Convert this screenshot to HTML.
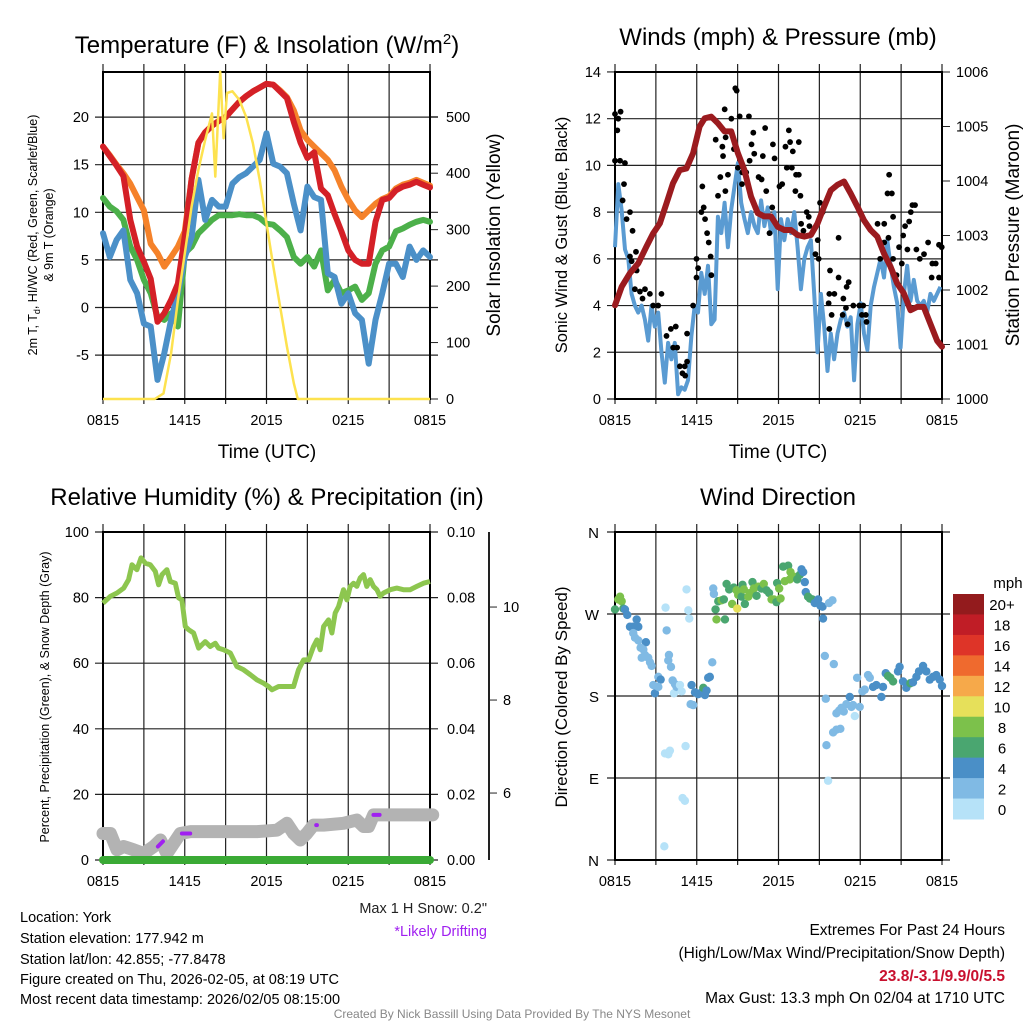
<!DOCTYPE html>
<html><head><meta charset="utf-8">
<style>
html,body{margin:0;padding:0;background:#fff;}
svg{display:block;font-family:"Liberation Sans",Arial,sans-serif;}
</style></head>
<body>
<svg id="chart" width="1024" height="1024" viewBox="0 0 1024 1024" xmlns="http://www.w3.org/2000/svg">
<rect width="1024" height="1024" fill="#fff"/>
<text x="267" y="53" font-size="24" text-anchor="middle">Temperature (F) &amp; Insolation (W/m<tspan dy="-9" font-size="15">2</tspan><tspan dy="9">)</tspan></text>
<text x="778" y="45" font-size="24" text-anchor="middle">Winds (mph) &amp; Pressure (mb)</text>
<text x="267" y="505" font-size="24" text-anchor="middle">Relative Humidity (%) &amp; Precipitation (in)</text>
<text x="778" y="505" font-size="24" text-anchor="middle">Wind Direction</text>

<g id="p1"></g>
<g id="p2"></g>
<g id="p3"></g>
<g id="p4"></g>

<text transform="translate(37,235) rotate(-90)" font-size="12.5" text-anchor="middle">2m T, T<tspan dy="3" font-size="9">d</tspan><tspan dy="-3">, HI/WC (Red, Green, Scarlet/Blue)</tspan></text>
<text transform="translate(53,235) rotate(-90)" font-size="12.5" text-anchor="middle">&amp; 9m T (Orange)</text>
<text transform="translate(500,235) rotate(-90)" font-size="19" text-anchor="middle">Solar Insolation (Yellow)</text>
<text transform="translate(567,235) rotate(-90)" font-size="16.5" text-anchor="middle">Sonic Wind &amp; Gust (Blue, Black)</text>
<text transform="translate(1019,235) rotate(-90)" font-size="19" text-anchor="middle">Station Pressure (Maroon)</text>
<text transform="translate(49,697) rotate(-90)" font-size="12.5" text-anchor="middle">Percent, Precipitation (Green), &amp; Snow Depth (Gray)</text>
<text transform="translate(567,697) rotate(-90)" font-size="17" text-anchor="middle">Direction (Colored By Speed)</text>
<text x="267" y="458" font-size="19" text-anchor="middle">Time (UTC)</text>
<text x="778" y="458" font-size="19" text-anchor="middle">Time (UTC)</text>

<text x="487" y="913" font-size="14.5" text-anchor="end" fill="#222">Max 1 H Snow: 0.2"</text>
<text x="487" y="936" font-size="14.5" text-anchor="end" fill="#a020f0">*Likely Drifting</text>
<g font-size="14.5">
<text x="20" y="922">Location: York</text>
<text x="20" y="943">Station elevation: 177.942 m</text>
<text x="20" y="964">Station lat/lon: 42.855; -77.8478</text>
<text x="20" y="984">Figure created on Thu, 2026-02-05, at 08:19 UTC</text>
<text x="20" y="1004">Most recent data timestamp: 2026/02/05 08:15:00</text>
</g>
<g font-size="15.5" text-anchor="end">
<text x="1005" y="935">Extremes For Past 24 Hours</text>
<text x="1005" y="958">(High/Low/Max Wind/Precipitation/Snow Depth)</text>
<text x="1005" y="981" fill="#c8102e" font-weight="bold">23.8/-3.1/9.9/0/5.5</text>
<text x="1005" y="1003">Max Gust: 13.3 mph On 02/04 at 1710 UTC</text>
</g>
<text x="512" y="1018" font-size="12" text-anchor="middle" fill="#888">Created By Nick Bassill Using Data Provided By The NYS Mesonet</text>
</svg>
<script>
// ---------- Temperature panel data (half-hourly, hours since 0815 UTC) ----------
const tempHours = [0,0.5,1,1.5,2,2.5,3,3.5,4,4.5,5,5.5,6,6.5,7,7.5,8,8.5,9,9.5,10,10.5,11,11.5,12,12.5,13,13.5,14,14.5,15,15.5,16,16.5,17,17.5,18,18.5,19,19.5,20,20.5,21,21.5,22,22.5,23,23.5,24];
const tempRed = [16.9,15.9,14.9,13.8,9.2,6.4,4.8,3.0,-1.5,-0.6,0.8,2.5,7.5,13.5,17.3,18.4,19.1,19.6,20.0,20.8,21.6,22.2,22.7,23.1,23.5,23.4,22.7,22.0,19.5,17.3,15.7,16.3,12.5,11.8,9.8,8.0,6.0,5.0,4.6,4.6,9.0,11.3,11.5,12.3,12.7,12.9,13.2,12.9,12.6];
const tempOrange = [16.9,16.0,15.0,14.1,13.0,11.6,10.2,6.7,5.7,4.3,5.3,6.4,8.0,13.5,17.3,18.4,19.1,19.6,20.0,20.8,21.6,22.2,22.7,23.1,23.5,23.4,22.8,22.1,20.7,18.6,17.6,16.9,16.2,15.5,14.4,12.7,11.3,10.2,9.5,10.2,10.9,11.4,11.7,12.5,12.9,13.1,13.4,13.1,12.8];
const tempGreen = [11.5,10.6,10.1,9.2,6.4,5.0,2.9,1.5,-1.0,-1.3,-0.6,-2.0,5.7,6.4,7.8,8.5,9.2,9.7,9.7,9.7,9.8,9.7,9.7,9.4,8.8,8.7,8.1,7.4,5.3,4.6,5.3,4.3,6.0,1.8,2.9,1.5,1.8,2.2,0.8,1.5,4.6,6.0,6.4,8.0,8.3,8.7,9.0,9.2,9.0];
const tempBlue = [7.8,5.3,7.1,8.1,2.9,1.5,-1.7,-2.0,-7.6,-4.8,-1.3,1.5,5.3,7.4,13.4,9.2,11.3,10.6,10.6,13.0,13.7,14.1,14.8,15.5,18.3,15.1,14.8,14.1,10.9,8.1,12.7,11.6,11.3,3.6,3.2,0.4,1.5,-0.6,-1.3,-5.9,-1.3,1.5,4.6,4.6,3.2,6.4,5.0,6.0,5.3];
const solarHours = [0,3.8,4.44,5.0,5.5,6.0,6.5,7.0,7.5,8.0,8.24,8.6,8.85,9.1,9.5,10.0,10.5,11.0,11.5,12.0,12.5,13.0,13.5,14.0,14.3,14.6,24];
const solarWm2 = [0,0,10,81,175,258,341,406,459,506,394,580,462,542,545,530,500,453,388,311,235,164,93,28,0,0,0];
const tempTicks = [-5,0,5,10,15,20];
const solarTicks = [0,100,200,300,400,500];
const timeTickLabels = ["0815","1415","2015","0215","0815"];

// ---------- Winds panel data ----------
const windStepHours = 0.2437;
const windSpeed = [6.5,9.2,8.1,6.4,6.0,4.5,4.0,3.7,4.0,3.4,2.5,4.0,3.1,3.7,2.0,0.7,2.4,1.7,2.4,0.2,0.5,0.4,0.8,2.7,4.0,3.7,5.4,4.5,5.7,3.2,3.4,7.8,7.1,8.4,6.5,8.1,9.1,10.1,8.4,7.7,7.1,8.0,7.4,7.1,8.5,7.4,8.2,7.1,8.0,4.7,7.7,6.8,7.7,7.1,8.0,6.5,4.7,6.0,6.5,6.8,4.5,2.0,4.5,3.1,1.2,2.8,1.7,2.8,3.4,3.7,3.1,3.5,0.8,3.2,4.1,2.8,2.1,4.0,4.8,5.4,6.0,5.2,6.8,5.7,4.8,4.1,2.2,4.5,5.7,4.2,5.1,4.2,4.0,4.2,3.7,4.5,4.2,4.5,4.8];
const gustHours = [0.0,0.24,0.41,0.17,0.0,0.37,0.73,0.66,0.56,1.10,0.85,1.29,1.10,1.54,1.22,1.59,1.46,1.83,2.20,2.02,2.56,2.80,3.17,3.41,3.78,4.10,4.46,4.27,4.56,4.76,5.12,4.95,5.29,5.15,5.29,5.73,5.98,6.10,5.98,6.34,6.51,6.61,6.41,6.76,6.88,7.02,7.07,7.56,7.39,7.93,7.88,8.10,7.73,8.29,8.12,8.54,8.05,8.73,8.83,8.93,9.15,9.83,9.02,9.34,9.32,9.63,9.88,10.02,10.22,10.15,10.85,11.02,10.54,10.76,11.10,11.59,11.71,11.54,11.34,12.07,12.27,12.51,12.76,12.85,13.05,13.49,12.61,12.98,13.29,13.49,13.24,13.61,14.07,13.66,14.22,13.83,14.27,14.71,14.88,15.05,15.24,14.95,15.78,16.41,15.73,16.10,15.68,16.76,17.00,17.15,16.71,16.95,15.73,15.90,17.07,17.49,17.93,18.22,18.41,18.12,18.46,16.41,19.76,19.27,20.12,20.00,20.32,20.41,19.46,19.76,20.07,20.41,20.66,20.85,21.05,21.15,21.46,21.29,21.59,21.83,22.02,21.71,22.12,22.37,22.68,22.98,23.29,23.54,23.24,23.78,23.98,23.78];
const gustMph = [12.2,12.0,12.3,11.5,10.2,10.2,10.1,9.2,8.5,8.0,7.7,7.2,6.1,6.3,5.9,5.5,4.7,4.6,4.7,4.3,4.5,4.0,4.0,4.5,2.7,3.0,3.1,2.2,2.2,1.4,1.4,1.1,1.6,1.0,2.8,4.0,6.0,5.6,5.2,8.0,8.2,7.7,9.1,7.1,6.7,6.1,5.3,8.7,11.1,10.4,10.8,8.9,9.5,9.6,11.2,12.0,12.4,10.7,13.3,13.2,12.1,12.1,9.9,9.7,9.2,9.7,10.2,10.9,10.5,11.4,10.4,11.6,9.5,9.4,8.9,10.9,10.3,8.2,7.1,9.1,9.2,10.8,11.5,11.0,10.6,11.0,9.9,9.9,9.6,9.6,8.9,8.7,8.0,7.5,7.8,7.2,7.4,6.2,6.8,8.4,8.0,6.0,5.5,5.2,4.5,4.5,4.1,4.3,4.8,5.0,3.6,3.9,3.0,3.6,3.2,4.0,4.0,4.0,3.6,3.6,3.3,6.9,7.5,7.5,9.6,8.8,8.8,7.8,6.0,6.7,6.9,6.0,5.3,6.5,5.8,7.0,6.4,7.4,7.6,8.3,8.3,8.0,6.4,6.0,6.2,6.7,5.8,5.8,5.2,6.6,6.5,5.2];
const pressHours = [0,0.49,1.10,1.71,2.31,2.80,3.29,3.78,4.26,4.75,5.24,5.73,6.21,6.58,7.07,7.55,8.04,8.53,9.02,9.50,9.99,10.48,10.96,11.45,11.94,12.43,12.91,13.40,13.89,14.38,14.86,15.35,15.84,16.33,16.81,17.30,17.79,18.27,18.76,19.25,19.74,20.22,20.71,21.20,21.69,22.17,22.66,23.15,23.64,24];
const pressMb = [1001.72,1002.06,1002.31,1002.49,1002.80,1003.04,1003.22,1003.59,1003.96,1004.20,1004.23,1004.51,1005.00,1005.15,1005.18,1005.06,1004.91,1004.91,1004.51,1004.20,1003.71,1003.41,1003.35,1003.35,1003.16,1003.10,1003.10,1003.01,1002.98,1003.01,1003.22,1003.53,1003.83,1003.93,1003.99,1003.77,1003.53,1003.28,1003.10,1002.98,1002.67,1002.43,1002.12,1001.94,1001.63,1001.69,1001.69,1001.38,1001.07,1000.96];
const windTicks = [0,2,4,6,8,10,12,14];
const pressTicks = [1000,1001,1002,1003,1004,1005,1006];

// ---------- Humidity panel data ----------
const rhHours = [0,0.54,1.03,1.52,1.88,2.13,2.49,2.79,3.11,3.47,3.84,4.08,4.33,4.69,4.94,5.31,5.55,5.79,6.04,6.28,6.65,7.02,7.26,7.51,7.87,8.24,8.48,8.85,9.34,9.83,10.32,10.81,11.30,11.78,12.15,12.40,12.89,13.50,13.99,14.35,14.72,15.09,15.45,15.70,15.94,16.19,16.55,16.80,17.04,17.29,17.65,17.90,18.14,18.39,18.63,18.88,19.12,19.36,19.61,19.85,20.10,20.34,20.59,21.08,21.56,22.05,22.54,23.03,23.52,24];
const rhPct = [78.3,80.4,81.4,82.9,85.5,90.0,88.5,92.1,90.5,90.0,88.0,83.9,87.0,88.5,84.9,84.4,79.9,79.3,71.2,70.2,69.2,64.6,65.6,66.6,65.1,66.1,64.6,64.1,63.1,59.0,58.0,56.5,54.9,53.9,52.9,51.9,52.9,52.9,52.9,58.0,61.0,61.0,65.1,67.1,64.1,71.2,73.2,69.2,75.3,77.3,82.4,79.3,83.4,84.4,83.4,86.0,87.0,83.4,85.5,83.4,82.4,80.4,81.4,82.4,82.9,82.4,82.4,83.4,84.4,84.9];
const snowHours = [0,0.54,1.03,1.52,2.25,2.98,3.72,4.21,4.69,5.67,6.41,8.85,11.30,12.76,13.50,13.99,14.48,14.96,15.45,16.19,17.65,18.63,19.12,19.49,19.86,24.2];
const snowDepth = [5.13,5.13,4.78,4.85,4.78,4.70,4.85,4.99,4.70,5.13,5.17,5.17,5.17,5.20,5.35,5.13,4.99,5.13,5.31,5.31,5.35,5.42,5.28,5.28,5.53,5.53];
const driftStart = [4.03,5.79,15.65,19.85];
const driftEnd = [4.40,6.40,15.70,20.30];
const driftDepthA = [4.85,5.13,5.31,5.53];
const driftDepthB = [4.96,5.13,5.31,5.53];
const precipHours = [0,24];
const precipIn = [0,0];
const rhTicks = [0,20,40,60,80,100];
const precipTicks = ["0.00","0.02","0.04","0.06","0.08","0.10"];
const snowTicks = [6,8,10];

// ---------- Wind direction panel data ----------
const dirHours = [0.00,0.24,0.37,0.49,0.61,0.73,0.90,1.59,1.10,1.34,1.71,1.34,1.47,1.71,2.27,1.88,2.08,2.20,1.96,2.44,2.57,2.69,2.81,2.93,3.18,3.35,3.18,3.79,3.71,3.96,3.91,4.11,4.23,4.40,4.33,4.52,4.89,4.77,5.25,5.38,5.45,5.62,5.55,5.74,5.87,6.11,6.35,6.48,6.72,6.60,6.84,6.96,7.14,7.21,7.26,7.38,7.45,7.58,7.82,7.99,8.07,8.19,8.38,8.60,8.72,8.92,8.97,9.04,9.29,9.36,9.46,9.53,9.78,9.90,10.09,10.19,10.39,10.51,10.75,10.92,11.12,11.31,11.49,11.66,11.85,11.90,12.05,12.15,12.34,12.46,12.71,12.83,12.88,13.12,13.37,13.56,13.69,13.81,13.93,14.00,14.17,14.30,14.49,14.66,14.91,15.08,15.23,15.27,15.71,15.96,15.40,16.06,15.47,15.52,15.64,16.25,16.45,16.62,16.79,16.98,17.23,17.35,17.47,17.60,17.77,17.96,18.16,18.33,18.57,18.70,18.94,19.18,19.55,19.67,19.87,20.04,20.21,20.41,20.77,20.89,21.14,21.38,21.68,21.87,22.12,22.31,22.61,22.85,23.10,23.34,23.58,23.83,24.0,3.67,3.91,4.03,5.18,4.96,5.13,3.62,16.25,16.01,16.54];
const dirDeg = [275,286,289,284,276,275,269,264,256,256,256,249,244,241,239,233,231,225,222,222,217,213,192,183,201,198,190,252,277,225,219,212,197,193,183,190,185,192,297,274,265,192,171,170,184,182,184,189,186,181,200,201,217,298,292,275,264,284,285,286,264,303,297,281,299,296,276,291,289,302,297,281,289,293,305,298,290,300,298,303,296,293,286,286,283,304,298,287,322,306,323,308,316,311,308,313,319,316,305,294,289,287,286,282,286,279,278,265,282,285,224,215,177,126,87,161,164,167,163,171,179,168,170,158,200,168,185,187,203,200,190,192,179,190,205,202,200,196,207,212,196,189,194,195,201,207,213,207,198,201,203,198,191,117,116,120,125,68,65,15,143,140,144];
const dirSpeed = [7,9,9,9,7,5,5,5,5,5,5,3,3,3,5,3,3,3,3,3,3,3,3,5,3,5,3,3,1,3,3,3,3,3,1,3,1,1,1,1,1,5,3,3,5,5,5,7,5,5,5,5,3,3,3,7,9,7,9,7,7,7,7,9,7,9,11,9,7,7,9,7,9,9,7,9,7,9,7,9,7,7,9,9,7,7,9,9,7,9,7,9,9,9,7,7,5,5,5,5,7,7,7,5,5,5,5,5,3,3,3,3,3,3,1,3,3,3,3,3,5,3,3,1,3,3,3,3,3,3,5,5,5,5,5,7,7,7,5,5,5,5,7,5,5,5,5,5,5,5,5,5,5,1,1,1,1,1,1,1,3,3,3];
const dirLabels = ["N","W","S","E","N"];
const dirTickDeg = [360,270,180,90,0];
const speedBins = ["0","2","4","6","8","10","12","14","16","18","20+"];
const speedColors = ["#b6e2f8","#80bae4","#4a8fc7","#4aa670","#7cc14b","#e6e05a","#f6a94a","#ef6a2e","#de3428","#c01d26","#931b1d"];

// ---------- drawing helpers ----------
const NS = "http://www.w3.org/2000/svg";
function mk(tag, attrs, parent){
  const e = document.createElementNS(NS, tag);
  for (const k in attrs) e.setAttribute(k, attrs[k]);
  parent.appendChild(e);
  return e;
}
function linPath(xs, ys, fx, fy){
  let d = "";
  for (let i=0;i<xs.length;i++) d += (i?"L":"M") + fx(xs[i]).toFixed(1) + "," + fy(ys[i]).toFixed(1);
  return d;
}
const L = 103, R = 430;
const xT = h => L + h/24*(R-L);
function frame(g, top, bot){
  for (let i=0;i<=8;i++){
    const x = xT(i*3) ;
    const ln = mk("line",{x1:x,y1:top-8,x2:x,y2:bot+5,stroke:"#222","stroke-width":1.2},g);
    
    
  }
  timeTickLabels.forEach((s,i)=>{
    const t = mk("text",{x:xT(i*6),y:bot+26,"font-size":14.5,"text-anchor":"middle"},g);
    t.textContent = s;
    
    
  });
}
function shift(g, dx){ g.setAttribute("transform","translate("+dx+",0)"); }

// ---------- Panel 1: temperature ----------
(function(){
  const g = document.getElementById("p1");
  const top=72, bot=399;
  const yT = v => 307.5 - v*9.52;
  const yS = v => 399 - v*0.5645;
  frame(g, top, bot);
  tempTicks.forEach(v=>{
    const ln = mk("line",{x1:L-8,y1:yT(v),x2:R+8,y2:yT(v),stroke:"#222","stroke-width":1.2},g);
    
    
    const t = mk("text",{x:L-14,y:yT(v)+5,"font-size":14.5,"text-anchor":"end"},g);
    t.textContent = v;
    
    
  });
  solarTicks.forEach(v=>{
    mk("line",{x1:R,y1:yS(v),x2:R+8,y2:yS(v),stroke:"#222"},g);
    const t = mk("text",{x:R+16,y:yS(v)+5,"font-size":14.5},g);
    t.textContent = v;
    
    
  });
  mk("rect",{x:L,y:top,width:R-L,height:bot-top,fill:"none",stroke:"#000","stroke-width":2},g);
  const series = [[tempGreen,"#4cb04a","dewpoint-line"],[tempOrange,"#f5822a","temp-9m-line"],[tempBlue,"#4b90c8","windchill-line"],[tempRed,"#d42027","temp-2m-line"]];
  series.forEach(s=>{
    const p = mk("path",{d:linPath(tempHours,s[0],xT,yT),fill:"none",stroke:s[1],"stroke-width":6,"stroke-linejoin":"round","stroke-linecap":"round"},g);
    
    
  });
  const sp = mk("path",{d:linPath(solarHours,solarWm2,xT,yS),fill:"none",stroke:"#fde24f","stroke-width":2.5,"stroke-linejoin":"round"},g);
  
  
})();

// ---------- Panel 2: winds ----------
(function(){
  const g = document.getElementById("p2");
  shift(g, 512);
  const top=72, bot=399;
  const yW = v => 399 - v*23.36;
  const yP = v => 399 - (v-1000)*54.5;
  frame(g, top, bot);
  windTicks.forEach(v=>{
    const ln = mk("line",{x1:L-8,y1:yW(v),x2:R,y2:yW(v),stroke:"#222","stroke-width":1.2},g);
    
    
    const t = mk("text",{x:L-14,y:yW(v)+5,"font-size":14.5,"text-anchor":"end"},g);
    t.textContent = v;
    
    
  });
  pressTicks.forEach(v=>{
    mk("line",{x1:R,y1:yP(v),x2:R+8,y2:yP(v),stroke:"#222"},g);
    const t = mk("text",{x:R+14,y:yP(v)+5,"font-size":14.5},g);
    t.textContent = v;
    
    
  });
  mk("rect",{x:L,y:top,width:R-L,height:bot-top,fill:"none",stroke:"#000","stroke-width":2},g);
  const wh = windSpeed.map((v,i)=>i*windStepHours);
  const wp = mk("path",{d:linPath(wh,windSpeed,xT,yW),fill:"none",stroke:"#5a9bd2","stroke-width":4,"stroke-linejoin":"round"},g);
  
  
  gustHours.forEach((h,i)=>{
    const c = mk("circle",{cx:xT(h),cy:yW(gustMph[i]),r:2.9,fill:"#000"},g);
    
    
  });
  const pp = mk("path",{d:linPath(pressHours,pressMb,xT,yP),fill:"none",stroke:"#9b1b1f","stroke-width":6,"stroke-linejoin":"round","stroke-linecap":"round"},g);
  
  
})();

// ---------- Panel 3: humidity ----------
(function(){
  const g = document.getElementById("p3");
  const top=532, bot=860;
  const yR = v => 860 - v*3.28;
  const ySn = v => 860 - (v-4.56)*46.5;
  frame(g, top, bot);
  rhTicks.forEach((v,i)=>{
    const ln = mk("line",{x1:L-8,y1:yR(v),x2:R+8,y2:yR(v),stroke:"#222","stroke-width":1.2},g);
    
    
    const t = mk("text",{x:L-14,y:yR(v)+5,"font-size":14.5,"text-anchor":"end"},g);
    t.textContent = v;
    
    
    const t2 = mk("text",{x:R+17,y:yR(v)+5,"font-size":14.5},g);
    t2.textContent = precipTicks[i];
    
    
  });
  mk("line",{x1:489,y1:top,x2:489,y2:bot,stroke:"#222","stroke-width":2},g);
  snowTicks.forEach(v=>{
    mk("line",{x1:489,y1:ySn(v),x2:497,y2:ySn(v),stroke:"#222"},g);
    const t = mk("text",{x:503,y:ySn(v)+5,"font-size":14.5},g);
    t.textContent = v;
    
    
  });
  mk("rect",{x:L,y:top,width:R-L,height:bot-top,fill:"none",stroke:"#000","stroke-width":2},g);
  const sn = mk("path",{d:linPath(snowHours,snowDepth,xT,ySn),fill:"none",stroke:"#b3b3b3","stroke-width":13,"stroke-linejoin":"round","stroke-linecap":"round"},g);
  
  
  driftStart.forEach((h,i)=>{
    const d = mk("line",{x1:xT(h),y1:ySn(driftDepthA[i]),x2:xT(driftEnd[i]),y2:ySn(driftDepthB[i]),stroke:"#a020f0","stroke-width":4,"stroke-linecap":"round"},g);
    
    
  });
  const pr = mk("path",{d:linPath(precipHours,precipIn.map(v=>v*1000),xT,yR),fill:"none",stroke:"#3aaa35","stroke-width":8,"stroke-linecap":"round"},g);
  
  
  const rh = mk("path",{d:linPath(rhHours,rhPct,xT,yR),fill:"none",stroke:"#8dc64f","stroke-width":5,"stroke-linejoin":"round"},g);
  
  
})();

// ---------- Panel 4: wind direction ----------
(function(){
  const g = document.getElementById("p4");
  shift(g, 512);
  const top=532, bot=860;
  const yD = v => 860 - v*(328/360);
  frame(g, top, bot);
  dirTickDeg.forEach((v,i)=>{
    const ln = mk("line",{x1:L-8,y1:yD(v),x2:R+8,y2:yD(v),stroke:"#222","stroke-width":1.2},g);
    
    
    const t = mk("text",{x:L-16,y:yD(v)+6,"font-size":15,"text-anchor":"end"},g);
    t.textContent = dirLabels[i];
    
    
  });
  mk("rect",{x:L,y:top,width:R-L,height:bot-top,fill:"none",stroke:"#000","stroke-width":2},g);
  dirHours.forEach((h,i)=>{
    const bin = Math.min(10, Math.floor(dirSpeed[i]/2));
    const c = mk("circle",{cx:xT(h),cy:yD(dirDeg[i]),r:4.2,fill:speedColors[bin]},g);
    
    
  });
  // colorbar
  const cbTop = 594, cbBot = 819, cbH = (cbBot-cbTop)/speedBins.length;
  const mph = mk("text",{x:496,y:588,"font-size":15,"text-anchor":"middle"},g);
  mph.textContent = "mph";
  
  
  speedBins.forEach((s,i)=>{
    const k = speedBins.length-1-i;
    const r = mk("rect",{x:441,y:cbTop+i*cbH,width:31,height:cbH+0.5,fill:speedColors[k]},g);
    
    
    const t = mk("text",{x:490,y:cbTop+i*cbH+cbH/2+6,"font-size":15,"text-anchor":"middle"},g);
    t.textContent = speedBins[k];
    
    
  });
})();
</script>
</body></html>
